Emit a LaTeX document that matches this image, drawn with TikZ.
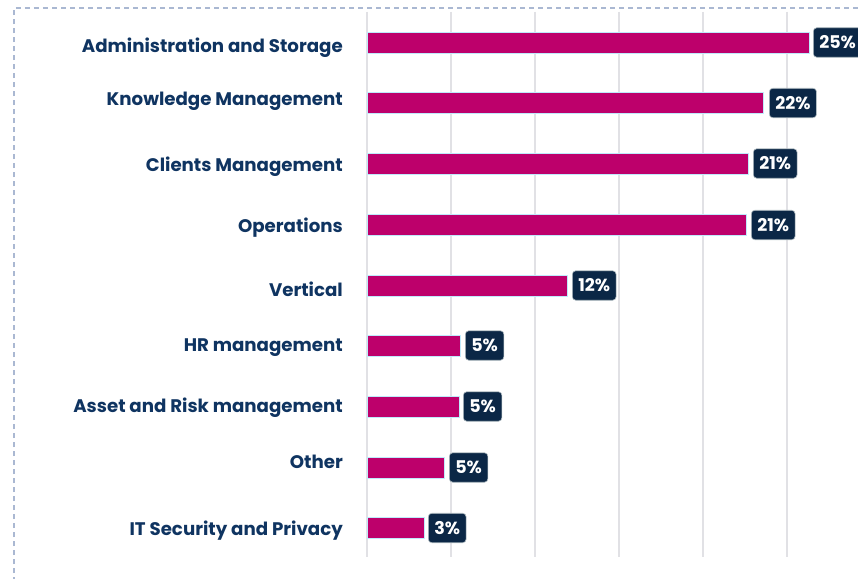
\documentclass[tikz,border=0pt]{standalone}
\usepackage{fontspec}
\setmainfont{Poppins}
\definecolor{navy}{HTML}{0F3461}
\definecolor{badgebg}{HTML}{0B2746}
\definecolor{barcol}{HTML}{BD006B}
\definecolor{gridcol}{HTML}{E1E1E5}
\definecolor{framecol}{HTML}{AAB8D2}
\tikzset{
  catlabel/.style={anchor=base east, inner sep=0pt, text=navy, font=\fontsize{18.2}{21}\selectfont\bfseries},
  barbox/.style={anchor=west, fill=barcol, draw=cyan!25, line width=0.5pt, minimum height=21pt, inner sep=0pt, outer sep=0pt},
  badge/.style={anchor=west, fill=badgebg, draw=cyan!15!gray!60, line width=0.6pt, rounded corners=3.5pt, text=white, font=\fontsize{17.5}{19}\selectfont\bfseries, minimum height=29.5pt, inner xsep=6pt, inner ysep=0pt},
  gridline/.style={draw=gridcol, line width=1.1pt},
  frameline/.style={draw=framecol, line width=1.8pt, dash pattern=on 5pt off 4pt}
}
\begin{document}
\begin{tikzpicture}[x=1pt,y=-1pt]
\useasboundingbox (0,0) rectangle (858,578);
\clip (0,0) rectangle (858,578);
\fill[white] (0,0) rectangle (858,578);
% dashed frame
\coordinate (fbl) at (14,600);
\coordinate (ftl) at (14,8);
\coordinate (ftr) at (900,8);
\draw[frameline] (fbl) -- (ftl) -- (ftr);
% grid lines
\foreach \gx [count=\k] in {367,451,535,619,703,787}{
  \coordinate (gt\k) at (\gx,12);
  \coordinate (gb\k) at (\gx,557);
  \draw[gridline] (gt\k) -- (gb\k);
}
% bars
\foreach \i/\lab/\ly/\by/\r/\gap/\val in {
  1/Administration and Storage/52.3/42.5/809/4/25\%,
  2/Knowledge Management/105/103/763/6/22\%,
  3/Clients Management/171/163.5/748/5/21\%,
  4/Operations/232/225/746/5/21\%,
  5/Vertical/296/285.5/567/5/12\%,
  6/HR management/351/345.5/460/5/5\%,
  7/Asset and Risk management/412/406.5/459/4/5\%,
  8/Other/468/467.5/444/5/5\%,
  9/IT Security and Privacy/535/528/424/4/3\%}{
  \node[catlabel] (lab\i) at (343,\ly) {\lab};
  \node[barbox, minimum width={(\r-367)*1pt}] (bar\i) at (367,\by) {};
  \node[badge] (val\i) at ([xshift=\gap pt]bar\i.east) {\val};
}
\end{tikzpicture}
\end{document}
